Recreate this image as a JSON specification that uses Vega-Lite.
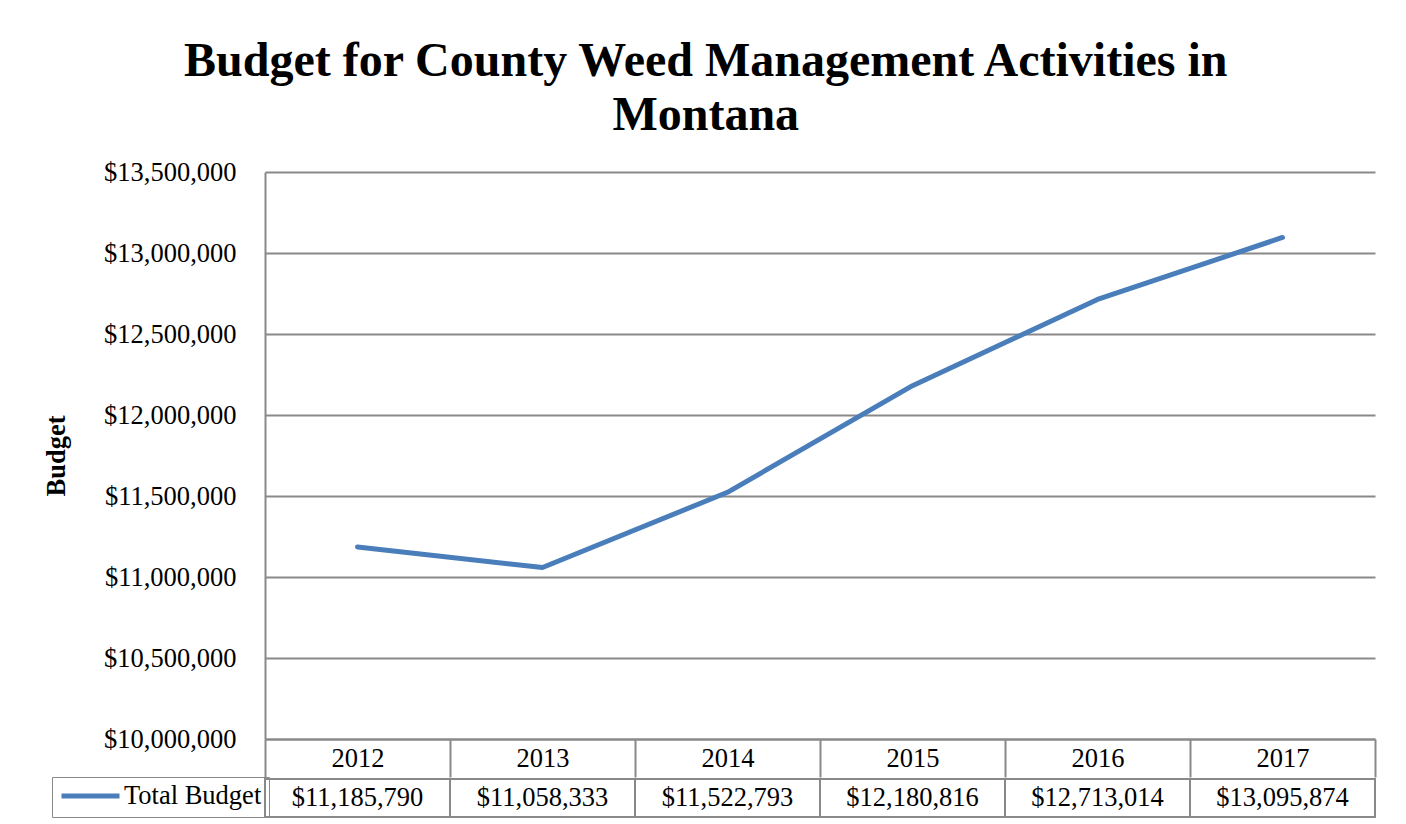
{
  "$schema": "https://vega.github.io/schema/vega-lite/v6.json",
  "background": "white",
  "padding": {"left": 43, "top": 38, "right": 30, "bottom": 5},
  "title": {
    "text": ["Budget for County Weed Management Activities in", "Montana"],
    "font": "Liberation Serif",
    "fontSize": 48,
    "fontWeight": "bold",
    "color": "black",
    "lineHeight": 54,
    "anchor": "middle",
    "frame": "bounds",
    "offset": 19,
    "dx": -4
  },
  "data": {
    "values": [
      {"year": "2012", "budget": 11185790, "series": "Total Budget"},
      {"year": "2013", "budget": 11058333, "series": "Total Budget"},
      {"year": "2014", "budget": 11522793, "series": "Total Budget"},
      {"year": "2015", "budget": 12180816, "series": "Total Budget"},
      {"year": "2016", "budget": 12713014, "series": "Total Budget"},
      {"year": "2017", "budget": 13095874, "series": "Total Budget"}
    ]
  },
  "spacing": 0,
  "resolve": {"scale": {"color": "shared"}, "legend": {"color": "shared"}},
  "vconcat": [
    {
      "width": 1110,
      "height": 567,
      "mark": {"type": "line", "strokeWidth": 5, "strokeCap": "round", "strokeJoin": "round"},
      "encoding": {
        "x": {
          "field": "year",
          "type": "ordinal",
          "scale": {"paddingInner": 0, "paddingOuter": 0},
          "axis": {
            "title": null,
            "labelAngle": 0,
            "grid": false,
            "tickBand": "extent",
            "tickSize": 38,
            "tickColor": "#898989",
            "tickWidth": 2,
            "domainColor": "#898989",
            "domainWidth": 2,
            "labelFont": "Liberation Serif",
            "labelFontSize": 26.5,
            "labelColor": "black",
            "labelBaseline": "middle",
            "labelPadding": -19,
            "minExtent": 38,
            "maxExtent": 38
          }
        },
        "y": {
          "field": "budget",
          "type": "quantitative",
          "scale": {"domain": [10000000, 13500000], "zero": false, "nice": false},
          "axis": {
            "title": "Budget",
            "titleFont": "Liberation Serif",
            "titleFontSize": 26.5,
            "titleFontWeight": "bold",
            "titleColor": "black",
            "titlePadding": 33,
            "values": [10000000, 10500000, 11000000, 11500000, 12000000, 12500000, 13000000, 13500000],
            "format": "$,.0f",
            "grid": true,
            "gridColor": "#898989",
            "gridWidth": 2,
            "ticks": false,
            "domain": true,
            "domainColor": "#898989",
            "domainWidth": 2,
            "labelFont": "Liberation Serif",
            "labelFontSize": 26.5,
            "labelColor": "black",
            "labelPadding": 29
          }
        },
        "color": {
          "field": "series",
          "type": "nominal",
          "scale": {"range": ["#4a7ebb"]},
          "legend": {
            "orient": "none",
            "legendX": -213,
            "legendY": 605,
            "title": null,
            "symbolType": "stroke",
            "symbolSize": 3364,
            "symbolStrokeWidth": 5,
            "labelFont": "Liberation Serif",
            "labelFontSize": 26.5,
            "labelColor": "black",
            "labelOffset": 2,
            "strokeColor": "#898989",
            "padding": 7,
            "clipHeight": 24
          }
        }
      }
    },
    {
      "width": 1110,
      "height": 38,
      "encoding": {
        "x": {
          "field": "year",
          "type": "ordinal",
          "scale": {"paddingInner": 0, "paddingOuter": 0},
          "axis": null
        }
      },
      "layer": [
        {"mark": {"type": "rect", "fill": "white", "stroke": "#898989", "strokeWidth": 2}},
        {
          "mark": {"type": "text", "font": "Liberation Serif", "fontSize": 26.5, "color": "black"},
          "encoding": {"text": {"field": "budget", "type": "quantitative", "format": "$,.0f"}}
        }
      ]
    }
  ],
  "config": {"view": {"stroke": null}}
}
